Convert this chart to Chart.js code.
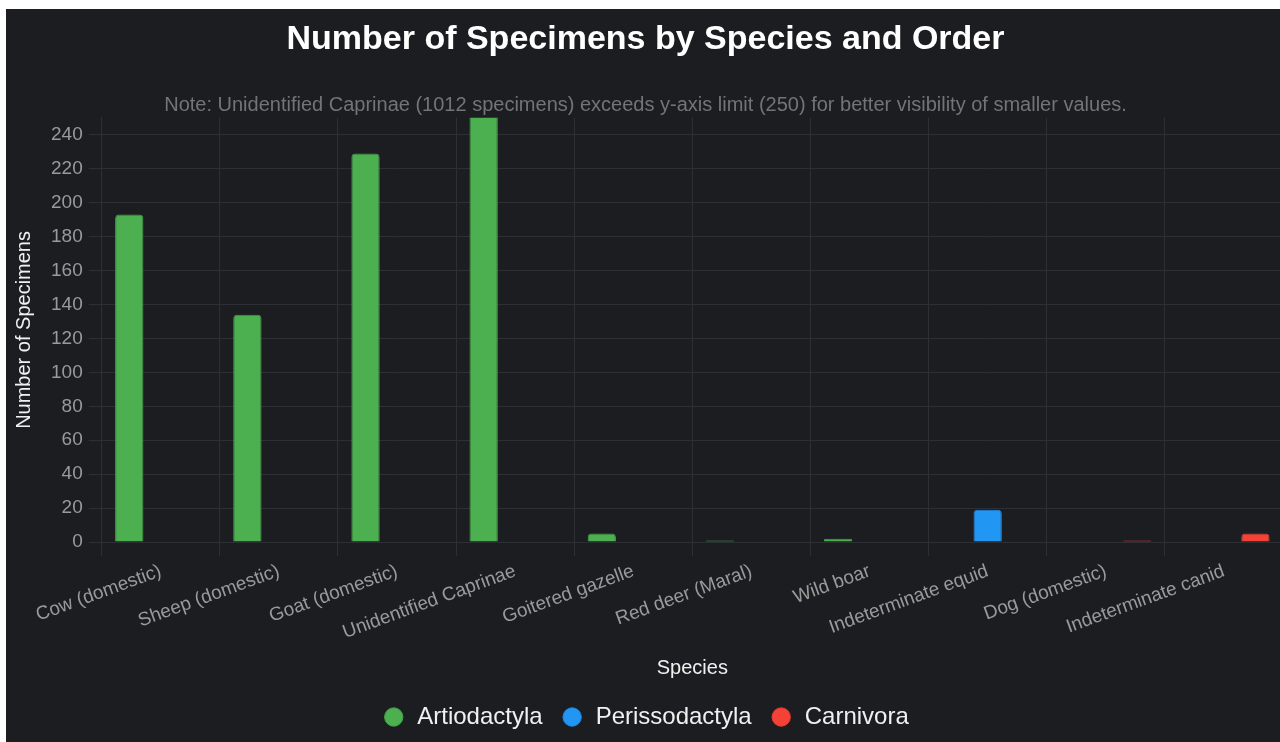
<!DOCTYPE html>
<html>
<head>
<meta charset="utf-8">
<script src="https://cdn.jsdelivr.net/npm/chart.js@4.4.0/dist/chart.umd.min.js"></script>
<style>
    html, body { margin: 0; padding: 0; background: #ffffff; overflow: hidden; }
    #wrap {
        position: absolute;
        left: 6px;
        top: 9px;
        width: 1282px;
        height: 733px;
        background: #1c1d20;
    }
</style>
</head>
<body>
<div id="wrap"><canvas id="chart"></canvas></div>
<script>
// ============================================
// DATA
// ============================================

const species = [
    'Cow (domestic)', 'Sheep (domestic)', 'Goat (domestic)', 'Unidentified Caprinae',
    'Goitered gazelle', 'Red deer (Maral)', 'Wild boar', 'Indeterminate equid',
    'Dog (domestic)', 'Indeterminate canid'
];
const orders = ['Artiodactyla', 'Perissodactyla', 'Carnivora'];
const artiodactyla   = [193, 134, 229, 1012, 5, 1, 2, null, null, null];
const perissodactyla = [null, null, null, null, null, null, null, 19, null, null];
const carnivora      = [null, null, null, null, null, null, null, null, 1, 5];
const orderColors = ['#4CAF50', '#2196F3', '#F44336'];
const orderBorders = ['#43A047', '#1E88E5', '#E53935'];
const yMax = 250;

// ============================================
// CHART
// ============================================

const FONT = "'Liberation Sans', Arial, sans-serif";
const seriesValues = [artiodactyla, perissodactyla, carnivora];

new Chart(document.getElementById('chart').getContext('2d'), {
    type: 'bar',
    data: {
        labels: species,
        datasets: orders.map((name, i) => ({
            label: name,
            data: seriesValues[i],
            backgroundColor: orderColors[i],
            borderColor: orderBorders[i],
            borderWidth: 1,
            borderRadius: 4
        }))
    },
    options: {
        responsive: true,
        maintainAspectRatio: false,
        animation: false,
        layout: { padding: { left: 2, right: 5, top: 0, bottom: 3 } },
        plugins: {
            title: {
                display: true,
                text: 'Number of Specimens by Species and Order',
                color: '#ffffff',
                font: { family: FONT, size: 34, weight: 'bold' },
                padding: { top: 10, bottom: 34 }
            },
            subtitle: {
                display: true,
                text: 'Note: Unidentified Caprinae (1012 specimens) exceeds y-axis limit (250) for better visibility of smaller values.',
                color: '#727478',
                font: { family: FONT, size: 20 },
                padding: { top: 0, bottom: 0 }
            },
            legend: {
                position: 'bottom',
                labels: {
                    color: '#f0f0f0',
                    font: { family: FONT, size: 24 },
                    usePointStyle: true,
                    pointStyle: 'circle',
                    boxWidth: 23,
                    boxHeight: 13,
                    padding: 18
                }
            },
            tooltip: { enabled: false }
        },
        scales: {
            x: {
                grid: { color: '#2c2f33', tickLength: 14 },
                border: { color: '#2c2f33' },
                ticks: {
                    color: '#9a9a9a',
                    font: { family: FONT, size: 19 },
                    minRotation: 20,
                    maxRotation: 20,
                    padding: 4
                },
                title: {
                    display: true,
                    text: 'Species',
                    color: '#f0f0f0',
                    font: { family: FONT, size: 20 },
                    padding: { top: 8, bottom: 7 }
                }
            },
            y: {
                min: 0,
                max: yMax,
                grid: { color: '#2c2f33', tickLength: 13 },
                border: { color: '#2c2f33' },
                ticks: {
                    color: '#9a9a9a',
                    font: { family: FONT, size: 19 },
                    stepSize: 20,
                    includeBounds: false,
                    padding: 6
                },
                title: {
                    display: true,
                    text: 'Number of Specimens',
                    color: '#f0f0f0',
                    font: { family: FONT, size: 20 },
                    padding: { top: 4, bottom: 9 }
                }
            }
        }
    }
});
</script>
</body>
</html>
